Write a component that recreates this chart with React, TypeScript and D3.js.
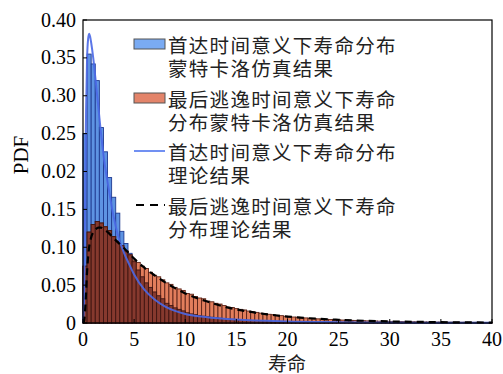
import * as d3 from "d3";

// histogram bins: width 0.4 over [0, 40]
const binWidth = 0.4;

// first-passage lifetime, Monte Carlo histogram
const firstPassMC = [
  0.25, 0.355, 0.342, 0.32, 0.258, 0.226, 0.192, 0.166, 0.145, 0.121,
  0.105, 0.092, 0.081, 0.07, 0.061, 0.053, 0.047, 0.041, 0.036, 0.032,
  0.026, 0.023, 0.02, 0.018, 0.016, 0.0135, 0.012, 0.011, 0.0098, 0.009,
  0.0083, 0.0076, 0.007, 0.0064, 0.0059, 0.0055, 0.005, 0.0046, 0.0043, 0.004,
  0.0037, 0.0035, 0.0033, 0.0031, 0.0029, 0.0027, 0.0025, 0.0024, 0.0022, 0.0021,
  0.0019, 0.0018, 0.0017, 0.0016, 0.0015, 0.0015, 0.0014, 0.0013, 0.0012, 0.0012,
  0.0011, 0.0011, 0.001, 0.001, 0.0009, 0.0009, 0.0009, 0.0008, 0.0008, 0.0008,
  0.0007, 0.0007, 0.0007, 0.0006, 0.0006, 0.0006, 0.0006, 0.0005, 0.0005, 0.0005,
  0.0005, 0.0005, 0.0004, 0.0004, 0.0004, 0.0004, 0.0004, 0.0004, 0.0003, 0.0003,
  0.0003, 0.0003, 0.0003, 0.0003, 0.0003, 0.0003, 0.0002, 0.0002, 0.0002, 0.0002,
];

// last-escape lifetime, Monte Carlo histogram
const lastEscapeMC = [
  0.075, 0.12, 0.13, 0.134, 0.132, 0.127, 0.122, 0.114, 0.108, 0.102,
  0.095, 0.09, 0.083, 0.08, 0.075, 0.072, 0.067, 0.063, 0.061, 0.057,
  0.053, 0.051, 0.047, 0.045, 0.043, 0.039, 0.038, 0.035, 0.033, 0.032,
  0.029, 0.028, 0.026, 0.025, 0.023, 0.021, 0.0205, 0.019, 0.018, 0.0172,
  0.0158, 0.0148, 0.014, 0.013, 0.0124, 0.0115, 0.011, 0.0101, 0.0097, 0.0089,
  0.0085, 0.0079, 0.0076, 0.007, 0.0067, 0.0062, 0.006, 0.0055, 0.0053, 0.0049,
  0.0047, 0.0044, 0.0042, 0.0039, 0.0038, 0.0035, 0.0034, 0.0031, 0.003, 0.0028,
  0.0027, 0.0026, 0.0024, 0.0023, 0.0022, 0.0021, 0.002, 0.0019, 0.0018, 0.0017,
  0.0016, 0.0016, 0.0015, 0.0014, 0.0013, 0.0013, 0.0012, 0.0012, 0.0011, 0.0011,
  0.001, 0.001, 0.001, 0.0009, 0.0009, 0.0009, 0.0008, 0.0008, 0.0008, 0.0007,
];

// theoretical curves
const firstPassX = [0, 0.1, 0.2, 0.3, 0.4, 0.5, 0.6, 0.7, 0.8, 1.0, 1.2, 1.5, 2.0, 2.5, 3.0, 3.5, 4.0, 4.5, 5, 6, 7, 8, 9, 10, 12, 15, 20, 25, 30, 35, 40];
const firstPassY = [0, 0.03, 0.15, 0.28, 0.35, 0.375, 0.382, 0.378, 0.37, 0.35, 0.325, 0.285, 0.222, 0.178, 0.14, 0.112, 0.093, 0.078, 0.064, 0.044, 0.031, 0.022, 0.016, 0.012, 0.008, 0.0045, 0.002, 0.0011, 0.0006, 0.0004, 0.0003];

const lastEscapeX = [0, 0.1, 0.2, 0.3, 0.4, 0.5, 0.6, 0.8, 1.0, 1.25, 1.5, 1.75, 2.0, 2.5, 3, 4, 5, 6, 7, 8, 9, 10, 12, 14, 16, 18, 20, 25, 30, 35, 40];
const lastEscapeY = [0, 0.002, 0.015, 0.04, 0.068, 0.087, 0.1, 0.113, 0.12, 0.124, 0.126, 0.126, 0.124, 0.119, 0.112, 0.099, 0.085, 0.073, 0.063, 0.054, 0.046, 0.039, 0.029, 0.021, 0.0155, 0.0115, 0.0085, 0.0042, 0.0021, 0.0011, 0.0006];

const xTicks = [0, 5, 10, 15, 20, 25, 30, 35, 40];
const yTicks = [0, 0.05, 0.1, 0.15, 0.2, 0.25, 0.3, 0.35, 0.4];
const yTickLabels = ["0", "0.05", "0.10", "0.15", "0.02", "0.25", "0.30", "0.35", "0.40"];

const legendLines = [
  ["首达时间意义下寿命分布", "蒙特卡洛仿真结果"],
  ["最后逃逸时间意义下寿命", "分布蒙特卡洛仿真结果"],
  ["首达时间意义下寿命分布", "理论结果"],
  ["最后逃逸时间意义下寿命", "分布理论结果"],
];

const serif = "'Liberation Serif', 'DejaVu Serif', serif";
const cjk = "'Noto Sans CJK SC', sans-serif";

export default function App() {
  const width = 503;
  const height = 374;
  const left = 83;
  const right = 492;
  const top = 20;
  const bottom = 323;

  const x = d3.scaleLinear([0, 40], [left, right]);
  const y = d3.scaleLinear([0, 0.4], [bottom, top]);

  const bluePath = d3.line<number>((d, i) => x(firstPassX[i]), (d) => y(d)).curve(d3.curveMonotoneX)(firstPassY);
  const redPath = d3.line<number>((d, i) => x(lastEscapeX[i]), (d) => y(d)).curve(d3.curveMonotoneX)(lastEscapeY);

  const bw = x(binWidth) - x(0);
  const legendY = [44, 98, 151, 205];

  return (
    <svg width={width} height={height} style={{ position: "absolute", left: 0, top: 0, background: "white" }}>
      <g>
        {firstPassMC.map((d, i) => (
          <rect key={"b" + i} x={x(i * binWidth)} y={y(d)} width={bw} height={bottom - y(d)}
            fill="#5e93e2" stroke="#1f3a90" strokeWidth={0.9} />
        ))}
        {lastEscapeMC.map((d, i) => (
          <rect key={"r" + i} x={x(i * binWidth)} y={y(d)} width={bw} height={bottom - y(d)}
            fill="#e27e5c" stroke="#5a2318" strokeWidth={0.9} />
        ))}
        {lastEscapeMC.map((d, i) => {
          const h = Math.min(d, firstPassMC[i]);
          return (
            <rect key={"o" + i} x={x(i * binWidth)} y={y(h)} width={bw} height={bottom - y(h)}
              fill="#86392e" stroke="#401612" strokeWidth={0.9} />
          );
        })}
      </g>
      <path d={bluePath ?? ""} fill="none" stroke="#4a68e6" strokeWidth={2} strokeOpacity={0.9} />
      <path d={redPath ?? ""} fill="none" stroke="#000" strokeWidth={2.2} strokeDasharray="7,5" />

      <rect x={left} y={top} width={right - left} height={bottom - top} fill="none" stroke="#000" strokeWidth={1.2} />
      {xTicks.map((t) => (
        <g key={"xt" + t}>
          <line x1={x(t)} x2={x(t)} y1={bottom} y2={bottom - 4} stroke="#000" />
          <text x={x(t)} y={346} textAnchor="middle" fontFamily={serif} fontSize={20}>{t}</text>
        </g>
      ))}
      {yTicks.map((t, i) => (
        <g key={"yt" + t}>
          <line x1={left} x2={left + 4} y1={y(t)} y2={y(t)} stroke="#000" />
          <text x={76} y={y(t) + 6.5} textAnchor="end" fontFamily={serif} fontSize={20}>{yTickLabels[i]}</text>
        </g>
      ))}
      <text x={287} y={362} textAnchor="middle" dominantBaseline="central" fontFamily={cjk} fontSize={19} fill="#222">寿命</text>
      <text transform="translate(21,155) rotate(-90)" textAnchor="middle" dominantBaseline="central" fontFamily={serif} fontSize={21}>PDF</text>

      <g>
        <rect x={134} y={legendY[0] - 5} width={31} height={10} fill="#7aabf3" stroke="#555" strokeWidth={1} />
        <rect x={134} y={legendY[1] - 5} width={31} height={10} fill="#e3846a" stroke="#555" strokeWidth={1} />
        <line x1={134} x2={165} y1={legendY[2]} y2={legendY[2]} stroke="#7190f2" strokeWidth={2} />
        <line x1={136} x2={165} y1={legendY[3]} y2={legendY[3]} stroke="#000" strokeWidth={2} strokeDasharray="8,6" />
        {legendLines.map((lines, i) =>
          lines.map((s, j) => (
            <text key={"l" + i + j} x={168} y={legendY[i] + j * 23} dominantBaseline="central"
              fontFamily={cjk} fontSize={19.5} letterSpacing={1.3} fill="#222">{s}</text>
          ))
        )}
      </g>
    </svg>
  );
}
